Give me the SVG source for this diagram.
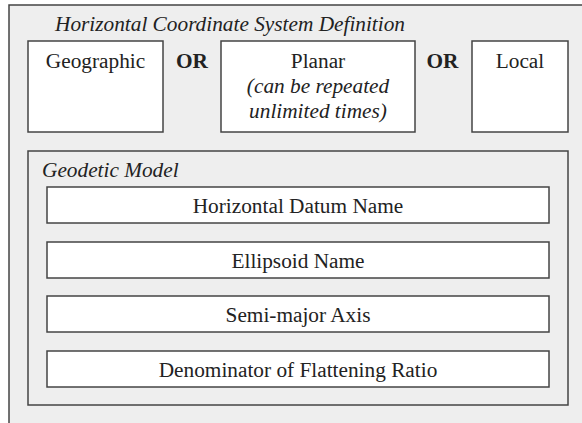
<svg xmlns="http://www.w3.org/2000/svg" width="582" height="423" viewBox="0 0 582 423">
<style>
.frame{fill:#eeeeee;stroke:#444;stroke-width:1.5}
.box{fill:#ffffff;stroke:#444;stroke-width:1.5}
.t{font-family:"Liberation Serif","Times New Roman",serif;font-size:21.3px;fill:#222}
.c{text-anchor:middle}
.i{font-style:italic}
.b{font-weight:bold}
</style>
<rect width="582" height="423" fill="#ffffff"/>
<g id="outer">
<rect class="frame" x="9" y="5" width="600" height="460"/>
<text class="t i" x="55" y="31">Horizontal Coordinate System Definition</text>
</g>
<g id="geographic">
<rect class="box" x="28" y="41" width="135" height="91"/>
<text class="t c" x="95.5" y="68">Geographic</text>
</g>
<g id="or1"><text class="t c b" x="192" y="68">OR</text></g>
<g id="planar">
<rect class="box" x="221" y="41" width="194" height="91"/>
<text class="t c" x="318" y="68">Planar</text>
<text class="t c i" x="318" y="93">(can be repeated</text>
<text class="t c i" x="318" y="118">unlimited times)</text>
</g>
<g id="or2"><text class="t c b" x="442.5" y="68">OR</text></g>
<g id="local">
<rect class="box" x="472" y="41" width="96" height="91"/>
<text class="t c" x="520" y="68">Local</text>
</g>
<g id="geodetic">
<rect class="frame" x="28" y="151" width="540" height="254"/>
<text class="t i" x="42" y="177">Geodetic Model</text>
</g>
<g id="datum">
<rect class="box" x="47" y="187" width="502" height="36"/>
<text class="t c" x="298" y="213">Horizontal Datum Name</text>
</g>
<g id="ellipsoid">
<rect class="box" x="47" y="242" width="502" height="36"/>
<text class="t c" x="298" y="268">Ellipsoid Name</text>
</g>
<g id="semimajor">
<rect class="box" x="47" y="296" width="502" height="36"/>
<text class="t c" x="298" y="322">Semi-major Axis</text>
</g>
<g id="flattening">
<rect class="box" x="47" y="351" width="502" height="36"/>
<text class="t c" x="298" y="377">Denominator of Flattening Ratio</text>
</g>
<g id="connectors"></g>
</svg>
